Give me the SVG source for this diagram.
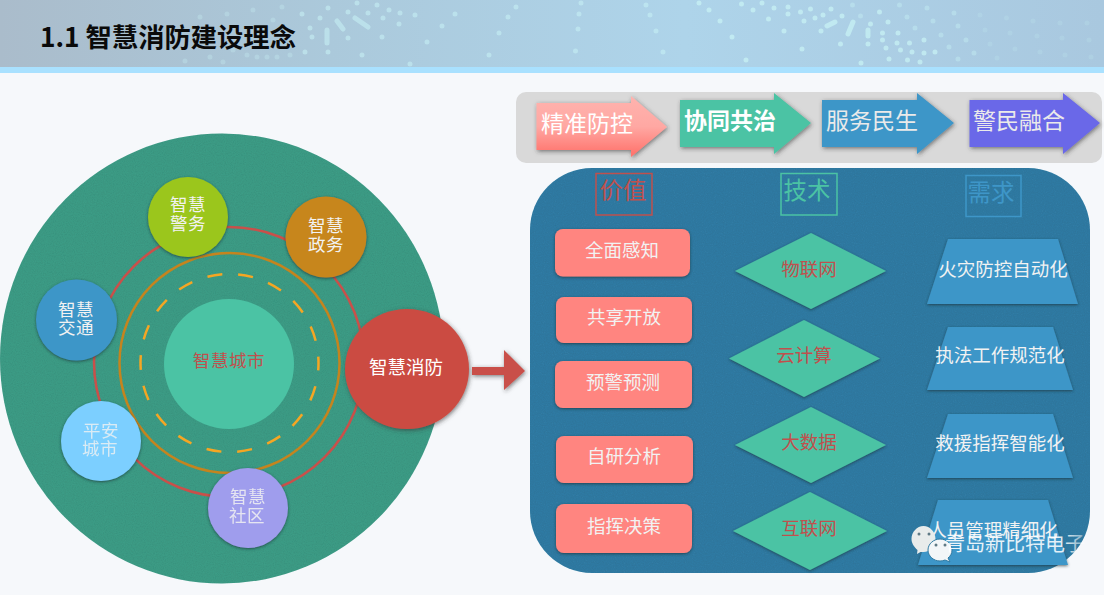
<svg xmlns="http://www.w3.org/2000/svg" width="1104" height="595" viewBox="0 0 1104 595">
<style>
text{font-family:"Noto Sans CJK SC","Noto Sans",sans-serif;text-anchor:middle;dominant-baseline:central;font-size:18.5px}
.w{fill:#f2f2f2}
.r{fill:#c0504d}
.big{font-size:23px}
.hd{font-size:23.5px}
.c{font-size:17.5px;letter-spacing:.6px}
.pill{fill:#ff8580;filter:url(#sh)}
.dia{fill:#4bc3a4;filter:url(#sh)}
.trap{fill:#3e96c8;filter:url(#sh)}
.node{filter:url(#sh)}
.dots{fill:none;stroke:#c9f3f5;stroke-linecap:round;stroke-width:5}
.box{fill:none;stroke-width:1.5}
.eye{fill:#5f7a85}
</style>
<defs>
<linearGradient id="hdr" x1="0" x2="1" y1="0" y2="0"><stop offset="0" stop-color="#aabccb"/><stop offset=".3" stop-color="#abc9db"/><stop offset=".62" stop-color="#aed4ea"/><stop offset="1" stop-color="#a9c8df"/></linearGradient>
<linearGradient id="pink" x1="0" x2="0" y1="0" y2="1"><stop offset="0" stop-color="#ffb3ae"/><stop offset=".5" stop-color="#ffa8a3"/><stop offset="1" stop-color="#ff6f68"/></linearGradient>
<filter id="sh" x="-20%" y="-20%" width="140%" height="140%"><feDropShadow dx="0" dy="1" stdDeviation="1.6" flood-color="#1c2f33" flood-opacity=".7"/></filter>
<filter id="sh2" x="-20%" y="-20%" width="140%" height="140%"><feDropShadow dx="1" dy="1.5" stdDeviation="2" flood-color="#333" flood-opacity=".6"/></filter>
<filter id="noise" x="0" y="0" width="100%" height="100%"><feTurbulence type="fractalNoise" baseFrequency=".9" numOctaves="2" seed="3" result="n"/><feColorMatrix in="n" type="matrix" values="0 0 0 0 0  0 0 0 0 0  0 0 0 0 0  0 0 0 .2 -.05" result="a"/><feComposite in="a" in2="SourceAlpha" operator="in" result="b"/><feMerge><feMergeNode in="SourceGraphic"/><feMergeNode in="b"/></feMerge></filter>
<linearGradient id="wmf" x1="945" x2="1086" y1="0" y2="0" gradientUnits="userSpaceOnUse"><stop offset="0" stop-color="#fff" stop-opacity=".9"/><stop offset=".85" stop-color="#fff" stop-opacity=".85"/><stop offset="1" stop-color="#fff" stop-opacity=".35"/></linearGradient>
</defs>

<rect width="1104" height="595" fill="#f6f8fb"/>
<g id="header">
<rect width="1104" height="67" fill="url(#hdr)"/>
<path class="dots" opacity=".3" d="M185 61h0M210 57h0M223 62h0M233 50h0M247 55h0M257 57h0M267 57h0M277 57h0M290 55h0M282 7h0M253 10h0M227 14h0M200 17h0M273 20h0"/>
<path class="dots" opacity=".55" d="M327 30v13M337 21l6 8M355 18l13 9M348 38h0M310 28h0M312 37h0M305 52h0M328 52h0M362 55h0M382 37h0M399 24h0M427 42h0M442 26h0M455 14h0M415 15h0M400 13h0M389 10h0M377 5h0M357 3h0M328 8h0M302 14h0M320 18h0M348 12h0M368 13h0M383 18h0M489 55h0M499 33h0M508 17h0M410 64h0M516 7h0M581 3h0M579 14h0M578 29h0M575.500 51h0M646 5h0M650 15h0M656 31h0M663 52h0"/>
<path class="dots" opacity=".7" d="M699 3h0M709 10h0M720 21h0M732 37h0M746 60h0M741.500 4h0M753 10h0M768.500 19h0M784 31h0M802 49h0M762 3h0M774 8h0M788 7h0M788 14h0M800.500 12h0M804 21h0M821 31h0M840.500 44h0M861 63h0M810.500 9h0M815 18h0M823 15h0M831 9h0M842 16h0M827 26l8-4M853 22l-5 12M868 30v6M868 44h0M882.500 33h0M882.500 40h0M886 48h0M889 59h0M888 22h0M879.500 12h0M870.500 24h0M898 33h0M897 43h0M900.500 50h0M907.500 60h0M909.500 43h0M912 52h0M920 62h0M924 40h0M924 53h0M935 52h0"/>
<path class="dots" opacity=".4" d="M852.500 5h0M860.500 16h0M899.500 5h0M907 17h0M915 28h0M933 21h0M927 8h0M941 35h0M949 47h0M958 59h0M954 13h0M958 26h0M966 40h0M974 53h0"/>
<path class="dots" opacity=".18" d="M980 15h0M985 30h0M990 44h0M997 58h0M1006.500 18h0M1010 33h0M1015 49h0M1033 21h0M1037 36h0M1040 52h0M1060 23h0M1062 38h0M1065 55h0M1087 23h0M1089 40h0M1091 57h0"/>
<rect y="67" width="1104" height="6" fill="#a9e1ff"/>
<text x="168" y="35.500" style="font-size:26.300px;font-weight:700" fill="#0a0a0a">1.1 智慧消防建设理念</text>
</g>

<g id="city-disc">
<ellipse cx="222" cy="358.500" rx="222" ry="225" fill="#3e9c86" filter="url(#noise)"/>
<circle cx="229" cy="362" r="135" fill="none" stroke="#c9504a" stroke-width="2.500"/>
<circle cx="229.500" cy="363" r="110" fill="none" stroke="#c5841e" stroke-width="2.500"/>
<circle cx="229.500" cy="363" r="89" fill="none" stroke="#f5a623" stroke-width="2.500" stroke-dasharray="15 16.070" stroke-dashoffset="7.500"/>
</g>
<g id="n-center"><circle cx="229" cy="364" r="65" fill="#4bc3a4"/><text class="r c" x="229" y="359">智慧城市</text></g>
<g id="n-police"><circle class="node" cx="188" cy="217" r="40" fill="#9bc61b"/><text class="w c" x="188" y="203">智慧</text><text class="w c" x="188" y="222">警务</text></g>
<g id="n-gov"><circle class="node" cx="326" cy="237" r="40.500" fill="#c7861d"/><text class="w c" x="326" y="224">智慧</text><text class="w c" x="326" y="243">政务</text></g>
<g id="n-traffic"><circle class="node" cx="76.500" cy="320" r="40.500" fill="#3e96c8"/><text class="w c" x="76" y="308.500">智慧</text><text class="w c" x="76" y="326.500">交通</text></g>
<g id="n-safe"><circle class="node" cx="101" cy="441" r="40" fill="#7ccfff"/><text class="w c" x="101" y="429" opacity=".8">平安</text><text class="w c" x="100" y="447" opacity=".8">城市</text></g>
<g id="n-community"><circle class="node" cx="248" cy="508" r="40" fill="#9f9ded"/><text class="w c" x="248" y="495.500" opacity=".85">智慧</text><text class="w c" x="247" y="514.500" opacity=".85">社区</text></g>
<g id="n-fire"><ellipse cx="407" cy="369" rx="62" ry="60" fill="#cb4c42" filter="url(#sh2)"/><text x="406" y="366" fill="#fff">智慧消防</text></g>

<g id="connectors">
<path d="M472 367H504V350L525 371 504 390V375H472Z" fill="#c9504a" filter="url(#sh2)"/>
</g>

<g id="mode-bar">
<rect x="516" y="92" width="586" height="71" rx="10" fill="#d9d9d9"/>
</g>
<g id="a1"><path d="M536.500 103H631V96L667 127 631 157V150H536.500Z" fill="url(#pink)" filter="url(#sh2)"/><text class="big" x="587" y="122" fill="#fff">精准防控</text></g>
<g id="a2"><path d="M680 100H774V93L811 123 774 154V147H680Z" fill="#4bc3a4" filter="url(#sh2)"/><text class="big" x="730" y="119" fill="#fff" font-weight="700">协同共治</text></g>
<g id="a3"><path d="M822 100H917V93L954 123 917 154V147H822Z" fill="#3e96c8" filter="url(#sh2)"/><text class="big" x="872" y="119" fill="#eaeaea">服务民生</text></g>
<g id="a4"><path d="M969.500 100H1063V93L1100 123 1063 154V147H969.500Z" fill="#6a68e8" filter="url(#sh2)"/><text class="big" x="1019" y="119" fill="#eaeaea">警民融合</text></g>

<g id="panel"><rect x="530" y="168" width="560" height="405" rx="62" fill="#307ca4" filter="url(#noise)"/></g>

<g id="h-value"><rect class="box" x="596" y="173.500" width="56" height="41.500" stroke="#c0504d"/><text class="hd" x="623" y="189" fill="#c0504d">价值</text></g>
<g id="h-tech"><rect class="box" x="781" y="173.500" width="56" height="41.500" stroke="#4bc3a4"/><text class="hd" x="807" y="189" fill="#4bc3a4">技术</text></g>
<g id="h-need"><rect class="box" x="966" y="175.500" width="55" height="41" stroke="#3e96c8"/><text class="hd" x="991" y="191" fill="#3e96c8">需求</text></g>

<g id="v1"><rect class="pill" x="555" y="229" width="135" height="47.500" rx="8"/><text class="w" x="622" y="249">全面感知</text></g>
<g id="v2"><rect class="pill" x="556" y="297" width="136" height="46" rx="8"/><text class="w" x="624" y="316">共享开放</text></g>
<g id="v3"><rect class="pill" x="555" y="361" width="137" height="47" rx="8"/><text class="w" x="623" y="381">预警预测</text></g>
<g id="v4"><rect class="pill" x="556" y="436" width="137" height="47" rx="8"/><text class="w" x="624" y="455">自研分析</text></g>
<g id="v5"><rect class="pill" x="556" y="504" width="136" height="49" rx="8"/><text class="w" x="624" y="525">指挥决策</text></g>

<g id="t1"><polygon class="dia" points="735,271 811,233 886,271 811,309"/><text class="r" x="809" y="268">物联网</text></g>
<g id="t2"><polygon class="dia" points="729,358.500 804,320 880,358.500 804,397"/><text class="r" x="804" y="354">云计算</text></g>
<g id="t3"><polygon class="dia" points="735,445 811,407 886,445 811,483"/><text class="r" x="809" y="441">大数据</text></g>
<g id="t4"><polygon class="dia" points="733,531 810,492 887,531 810,570"/><text class="r" x="809" y="527">互联网</text></g>

<g id="n1"><polygon class="trap" points="948,239 1058,239 1078,304 927,304"/><text class="w" x="1003" y="268">火灾防控自动化</text></g>
<g id="n2"><polygon class="trap" points="948,327 1053,327 1073,390 927,390"/><text class="w" x="1000" y="354">执法工作规范化</text></g>
<g id="n3"><polygon class="trap" points="948,414 1053,414 1073,478 927,478"/><text class="w" x="1000" y="442">救援指挥智能化</text></g>
<g id="n4"><polygon class="trap" points="938,500 1048,500 1068,565 918,565"/><text class="w" x="993" y="528.500">人员管理精细化</text></g>

<g id="watermark">
<path d="M923.500 526c6.500 0 12 6 12 13s-5.500 13-12 13c-1 0-2 0-3 0l-3.500 2 .5-4c-3-2.500-6-6.500-6-11 0-7 5.500-13 12-13Z" fill="#e8eceb"/>
<path d="M940 539c6.500 0 12 5 12 11 0 3.500-1.500 6-4 8l2 4-5-2c-1.500 .5-3 1-5 1-6.500 0-12-5-12-11s5.500-11 12-11Z" fill="#f2f6f8" stroke="#2f7ba3" stroke-width="1"/>
<circle class="eye" cx="919" cy="534" r="1.500"/><circle class="eye" cx="929" cy="534" r="1.500"/><circle class="eye" cx="936" cy="545" r="1.500"/><circle class="eye" cx="945" cy="545" r="1.500"/>
<text x="1015" y="542" fill="url(#wmf)" style="font-size:20px">青岛新比特电子</text>
</g>
</svg>
